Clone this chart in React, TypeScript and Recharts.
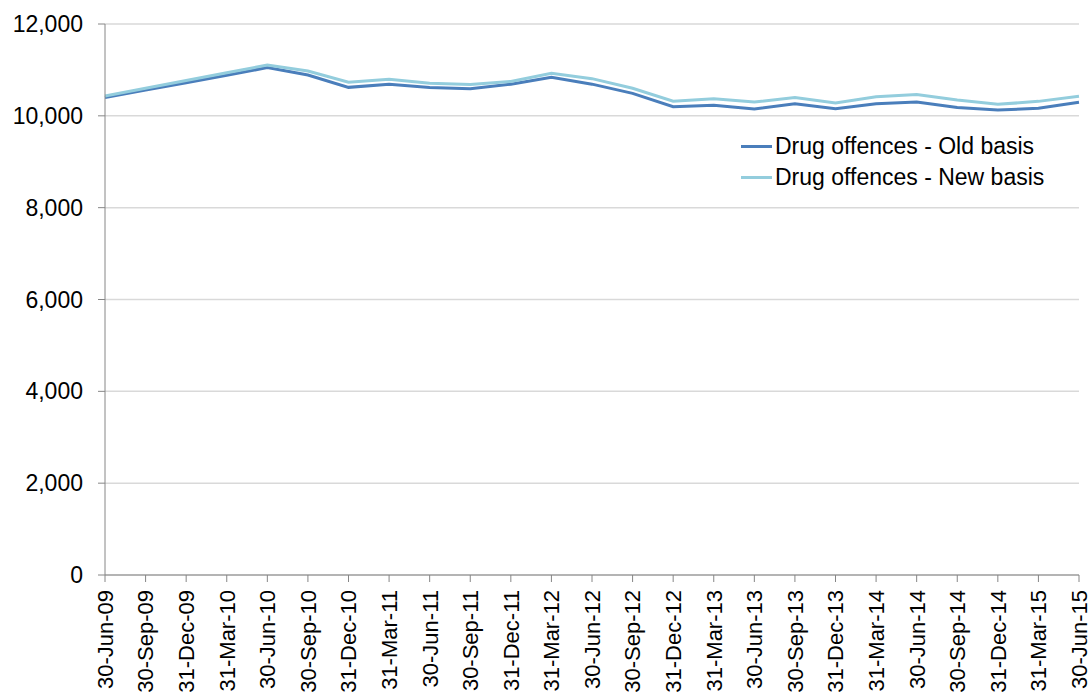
import { CartesianGrid, Line, LineChart, XAxis, YAxis } from "recharts";

const quarters = [
  "30-Jun-09", "30-Sep-09", "31-Dec-09", "31-Mar-10", "30-Jun-10", "30-Sep-10",
  "31-Dec-10", "31-Mar-11", "30-Jun-11", "30-Sep-11", "31-Dec-11", "31-Mar-12",
  "30-Jun-12", "30-Sep-12", "31-Dec-12", "31-Mar-13", "30-Jun-13", "30-Sep-13",
  "31-Dec-13", "31-Mar-14", "30-Jun-14", "30-Sep-14", "31-Dec-14", "31-Mar-15",
  "30-Jun-15",
];

const oldBasis = [
  10400, 10560, 10720, 10885, 11050, 10890, 10620, 10690, 10615, 10590, 10690, 10840,
  10690, 10490, 10200, 10230, 10150, 10265, 10155, 10265, 10300, 10180, 10125, 10165,
  10295,
];

const newBasis = [
  10430, 10600, 10770, 10940, 11105, 10975, 10730, 10795, 10710, 10685, 10750, 10925,
  10810, 10600, 10320, 10370, 10300, 10400, 10280, 10415, 10465, 10345, 10250, 10315,
  10425,
];

const yTicks = [0, 2000, 4000, 6000, 8000, 10000, 12000];

const series = [
  { key: "oldBasis", name: "Drug offences - Old basis", color: "#4a7ebb" },
  { key: "newBasis", name: "Drug offences - New basis", color: "#93cddd" },
];

const data = quarters.map((q, i) => ({ quarter: q, oldBasis: oldBasis[i], newBasis: newBasis[i] }));

const font = "Arial, 'Liberation Sans', sans-serif";

// rotated quarter labels, read bottom-to-top like the Excel original
function QuarterTick({ x, y, payload }: any) {
  return (
    <text
      x={x}
      y={y}
      transform={`rotate(-90, ${x}, ${y})`}
      textAnchor="end"
      dy="0.36em"
      fontSize={22}
      fontFamily={font}
      fill="#000"
    >
      {payload.value}
    </text>
  );
}

function LegendBox() {
  return (
    <div style={{ position: "absolute", left: 741, top: 131, fontFamily: font, fontSize: 23, color: "#000" }}>
      {series.map((s) => (
        <div key={s.key} style={{ display: "flex", alignItems: "center", height: 31, whiteSpace: "nowrap" }}>
          <span style={{ width: 31, height: 3, background: s.color, marginRight: 3 }} />
          <span>{s.name}</span>
        </div>
      ))}
    </div>
  );
}

export default function App() {
  return (
    <div style={{ position: "absolute", left: 0, top: 0, width: 1092, height: 700, background: "#fff", overflow: "hidden" }}>
      <LineChart width={1092} height={700} data={data} margin={{ top: 24, right: 13, bottom: 0, left: 0 }}>
        <CartesianGrid stroke="#d9d9d9" strokeWidth={1.5} vertical={false} />
        <XAxis
          dataKey="quarter"
          interval={0}
          height={125}
          stroke="#868686"
          tickSize={7}
          tickMargin={8}
          tick={<QuarterTick />}
        />
        <YAxis
          domain={[0, 12000]}
          ticks={yTicks}
          width={105}
          stroke="#868686"
          tickSize={7}
          tickMargin={15}
          tickFormatter={(v: number) => v.toLocaleString("en-US")}
          tick={{ fill: "#000", fontSize: 23, fontFamily: font }}
        />
        {series.map((s) => (
          <Line
            key={s.key}
            type="linear"
            dataKey={s.key}
            name={s.name}
            stroke={s.color}
            strokeWidth={3}
            dot={false}
            activeDot={false}
            isAnimationActive={false}
          />
        ))}
      </LineChart>
      <LegendBox />
    </div>
  );
}
